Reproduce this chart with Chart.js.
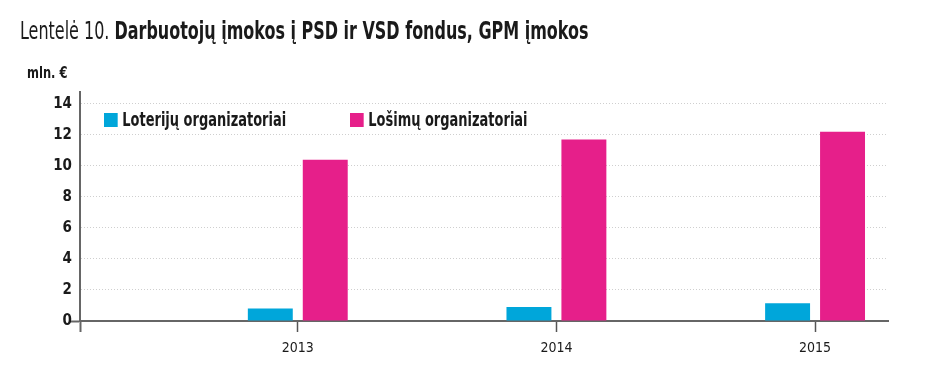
<!DOCTYPE html>
<html>
<head>
<meta charset="utf-8">
<script src="https://cdn.jsdelivr.net/npm/chart.js@4/dist/chart.umd.min.js"></script>
<style>
    body { margin: 0; background: #fff; }
    #wrap { position: relative; width: 929px; height: 370px; }
    .narrow {
        position: absolute; white-space: nowrap; color: #1a1a1a;
        font-family: "DejaVu Sans Condensed", "DejaVu Sans", sans-serif;
        transform-origin: left top;
    }
    #title { left: 20px; top: 17px; font-size: 24px; transform: scaleX(0.74); }
    #unit { left: 27px; top: 64px; font-size: 15px; font-weight: bold; transform: scaleX(0.85); }
    .item { top: 108px; font-size: 19px; font-weight: bold; transform: scaleX(0.76); }
    .box { display: inline-block; width: 18px; height: 14px; margin-right: 6px; vertical-align: -1px; }
</style>
</head>
<body>
<div id="wrap">
    <canvas id="chart" width="929" height="370"></canvas>
    <div id="title" class="narrow">Lentelė 10. <b>Darbuotojų įmokos į PSD ir VSD fondus, GPM įmokos</b></div>
    <div id="unit" class="narrow">mln. €</div>
</div>
<script>
const years = [2013, 2014, 2015];
const seriesNames = ["Loterijų organizatoriai", "Lošimų organizatoriai"];
const loterijos = [0.8, 0.9, 1.15];
const losimai = [10.4, 11.7, 12.2];
const yTicks = [0, 2, 4, 6, 8, 10, 12, 14];

const colors = ["#00a6da", "#e61f8a"];
const fontFamily = '"DejaVu Sans Condensed", "DejaVu Sans", sans-serif';

// legend sits inside the plot area, drawn as html on top of the canvas
const wrap = document.getElementById("wrap");
const legendX = [104, 350];
seriesNames.forEach((name, i) => {
    const item = document.createElement("span");
    item.className = "narrow item";
    item.style.left = legendX[i] + "px";
    item.innerHTML = `<span class="box" style="background:${colors[i]}"></span>${name}`;
    wrap.appendChild(item);
});

const ctx = document.getElementById("chart").getContext("2d");

new Chart(ctx, {
    type: "bar",
    data: {
        datasets: [
            {
                label: seriesNames[0],
                data: years.map((y, i) => ({ x: y, y: loterijos[i] })),
                backgroundColor: colors[0],
            },
            {
                label: seriesNames[1],
                data: years.map((y, i) => ({ x: y, y: losimai[i] })),
                backgroundColor: colors[1],
            }
        ]
    },
    options: {
        responsive: false,
        animation: false,
        layout: { padding: { top: 92, right: 41, left: 0, bottom: 0 } },
        datasets: {
            // bar width is measured against the gap from the axis start to 2013
            bar: { categoryPercentage: 0.5046, barPercentage: 0.818 }
        },
        scales: {
            x: {
                type: "linear",
                offset: false,
                min: 2012.158,
                max: 2015.282,
                afterFit: scale => { scale.height = 49; },
                afterBuildTicks: scale => {
                    scale.ticks = [scale.min, ...years].map(v => ({ value: v }));
                },
                ticks: {
                    padding: 8,
                    color: "#1a1a1a",
                    font: { family: fontFamily, size: 14 },
                    callback: value => years.includes(value) ? String(value) : ""
                },
                grid: {
                    offset: false,
                    drawOnChartArea: false,
                    tickLength: 11,
                    tickColor: c => c.index === 0 ? "#666" : "#555",
                    tickWidth: c => c.index === 0 ? 2 : 1.5,
                },
                border: { color: "#666", width: 2 }
            },
            y: {
                min: 0,
                max: 14.77,
                afterFit: scale => { scale.width = 80; },
                afterBuildTicks: scale => {
                    scale.ticks = yTicks.map(v => ({ value: v }));
                },
                ticks: {
                    padding: -3,
                    color: "#1a1a1a",
                    font: { family: fontFamily, size: 15, weight: "bold" }
                },
                grid: {
                    color: c => c.tick && c.tick.value === 0 ? "rgba(0,0,0,0)" : "#cfcfcf",
                    lineWidth: 1,
                    tickLength: 11,
                    tickColor: c => c.tick && c.tick.value === 0 ? "#666" : "rgba(0,0,0,0)",
                    tickWidth: 2,
                },
                border: { color: "#666", width: 2, dash: [1, 2] }
            }
        },
        plugins: {
            legend: { display: false },
            tooltip: { enabled: false }
        }
    }
});
</script>
</body>
</html>
